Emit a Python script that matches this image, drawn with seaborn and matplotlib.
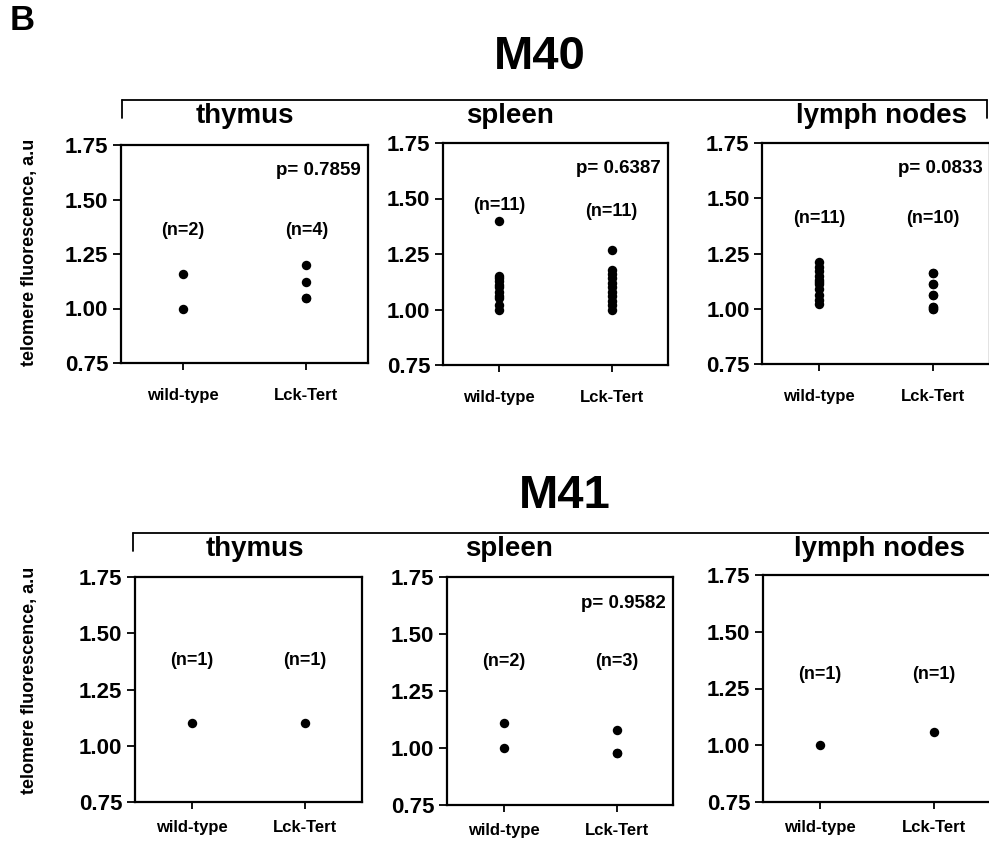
import matplotlib
matplotlib.use("Agg")
import matplotlib.pyplot as plt
from matplotlib.lines import Line2D
import seaborn as sns
import pandas as pd

# ---------------- data ----------------
groups = ["wild-type", "Lck-Tert"]
tissues = ["thymus", "spleen", "lymph nodes"]
mice = ["M40", "M41"]

m40_thymus_wt = [1.16, 1.00]
m40_thymus_tg = [1.20, 1.12, 1.05, 1.05]
m40_spleen_wt = [1.40, 1.15, 1.14, 1.13, 1.11, 1.10, 1.08, 1.06, 1.05, 1.02, 1.00]
m40_spleen_tg = [1.27, 1.18, 1.16, 1.14, 1.12, 1.10, 1.08, 1.06, 1.04, 1.02, 1.00]
m40_lymph_wt = [1.21, 1.19, 1.17, 1.15, 1.13, 1.12, 1.11, 1.09, 1.06, 1.04, 1.02]
m40_lymph_tg = [1.16, 1.16, 1.11, 1.11, 1.06, 1.06, 1.01, 1.01, 1.00, 1.00]

m41_thymus_wt = [1.10]
m41_thymus_tg = [1.10]
m41_spleen_wt = [1.11, 1.00]
m41_spleen_tg = [1.08, 0.98, 0.98]
m41_lymph_wt = [1.00]
m41_lymph_tg = [1.06]

p_values = {("M40", "thymus"): "p= 0.7859", ("M40", "spleen"): "p= 0.6387",
            ("M40", "lymph nodes"): "p= 0.0833", ("M41", "spleen"): "p= 0.9582"}

yticks = [0.75, 1.00, 1.25, 1.50, 1.75]
ytick_labels = ["0.75", "1.00", "1.25", "1.50", "1.75"]
ylabel = "telomere fluorescence, a.u"

panel_data = {
    ("M40", "thymus"): (m40_thymus_wt, m40_thymus_tg),
    ("M40", "spleen"): (m40_spleen_wt, m40_spleen_tg),
    ("M40", "lymph nodes"): (m40_lymph_wt, m40_lymph_tg),
    ("M41", "thymus"): (m41_thymus_wt, m41_thymus_tg),
    ("M41", "spleen"): (m41_spleen_wt, m41_spleen_tg),
    ("M41", "lymph nodes"): (m41_lymph_wt, m41_lymph_tg),
}

# ---------------- layout (pixels) ----------------
W, H = 989, 842
boxes = {
    ("M40", "thymus"): (121, 145, 368, 363),
    ("M40", "spleen"): (443, 143, 668, 365),
    ("M40", "lymph nodes"): (762, 143, 990, 364),
    ("M41", "thymus"): (135, 577, 362, 802),
    ("M41", "spleen"): (447, 577, 673, 805),
    ("M41", "lymph nodes"): (763, 575, 991, 802),
}
title_x = {("M40", "thymus"): 245, ("M40", "spleen"): 510, ("M40", "lymph nodes"): 882,
           ("M41", "thymus"): 255, ("M41", "spleen"): 509, ("M41", "lymph nodes"): 879}
title_y = {"M40": 116, "M41": 549}
n_label_y = {("M40", "thymus"): 1.36, ("M40", "spleen"): (1.47, 1.44),
             ("M40", "lymph nodes"): 1.41, ("M41", "thymus"): 1.38,
             ("M41", "spleen"): 1.38, ("M41", "lymph nodes"): 1.31}
p_y = 1.635
xpad = {"M40": 13, "M41": 8}

sns.set_style("ticks")
plt.rcParams["font.family"] = ["Liberation Sans", "DejaVu Sans"]
plt.rcParams["font.weight"] = "bold"
for k in ["text.color", "axes.labelcolor", "xtick.color", "ytick.color", "axes.edgecolor"]:
    plt.rcParams[k] = "black"

fig = plt.figure(figsize=(W / 100, H / 100), dpi=100)


def fx(x):
    return x / W


def fy(y):
    return 1 - y / H


for key, (l, t, r, b) in boxes.items():
    mouse, tissue = key
    ax = fig.add_axes([fx(l), fy(b), (r - l) / W, (b - t) / H])
    wt, tg = panel_data[key]
    df = pd.DataFrame({"group": [groups[0]] * len(wt) + [groups[1]] * len(tg),
                       "value": wt + tg})
    sns.stripplot(data=df, x="group", y="value", order=groups, jitter=False,
                  color="black", size=6.8, linewidth=0, ax=ax)
    ax.set_xlim(-0.5, 1.5)
    ax.set_ylim(0.75, 1.75)
    ax.set_yticks(yticks)
    ax.set_yticklabels(ytick_labels, fontsize=16, fontweight="bold", color="black")
    ax.set_xticks([0, 1])
    ax.set_xticklabels(groups, fontsize=12, fontweight="bold", color="black")
    ax.tick_params(axis="y", length=6, width=1.3, pad=3, colors="black")
    ax.tick_params(axis="x", length=5, width=1.3, pad=xpad[mouse], colors="black")
    ax.set_xlabel("")
    ax.set_ylabel("")
    for s in ax.spines.values():
        s.set_visible(True)
        s.set_linewidth(1.6)
        s.set_color("black")
    # n labels
    ny = n_label_y[key]
    if isinstance(ny, tuple):
        ny0, ny1 = ny
    else:
        ny0 = ny1 = ny
    ax.text(0, ny0, f"(n={len(wt)})", ha="center", va="center", fontsize=13,
            fontweight="bold", color="black")
    ax.text(1, ny1, f"(n={len(tg)})", ha="center", va="center", fontsize=13,
            fontweight="bold", color="black")
    if key in p_values:
        ax.text(0.97, p_y, p_values[key], ha="right", va="center", fontsize=13.5,
                fontweight="bold", color="black", transform=ax.get_yaxis_transform())
    fig.text(fx(title_x[key]), fy(title_y[mouse]), tissue, ha="center", va="center",
             fontsize=20, fontweight="bold", color="black")

# mouse headers and brackets
fig.text(fx(540), fy(57), "M40", ha="center", va="center", fontsize=34,
         fontweight="bold", color="black")
fig.text(fx(565), fy(496), "M41", ha="center", va="center", fontsize=34,
         fontweight="bold", color="black")
for (x0, x1, y0, leg) in [(122, 987, 100, 18), (133, 1000, 533, 18)]:
    fig.add_artist(Line2D([fx(x0), fx(x1)], [fy(y0), fy(y0)], color="black", lw=1.3))
    fig.add_artist(Line2D([fx(x0), fx(x0)], [fy(y0), fy(y0 + leg)], color="black", lw=1.3))
    if x1 < W:
        fig.add_artist(Line2D([fx(x1), fx(x1)], [fy(y0), fy(y0 + leg)], color="black", lw=1.3))

fig.text(fx(30), fy(252), ylabel, rotation=90, ha="center", va="center", fontsize=13,
         fontweight="bold", color="black")
fig.text(fx(30), fy(680), ylabel, rotation=90, ha="center", va="center", fontsize=13,
         fontweight="bold", color="black")
fig.text(fx(22), fy(20), "B", ha="center", va="center", fontsize=25,
         fontweight="bold", color="black")

fig.savefig("out.png", dpi=100)
